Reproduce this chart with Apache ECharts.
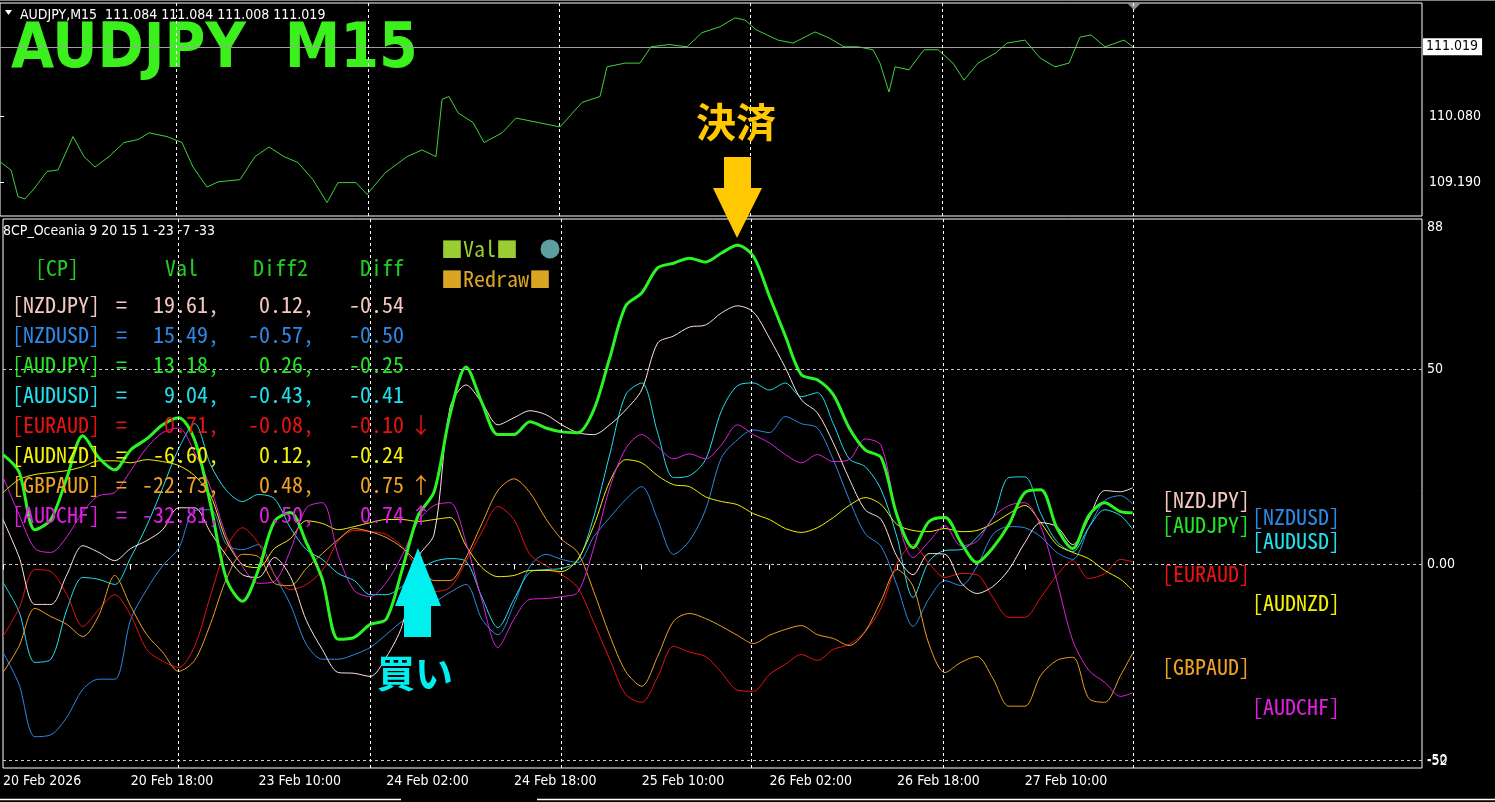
<!DOCTYPE html>
<html><head><meta charset="utf-8">
<script src="https://cdn.jsdelivr.net/npm/echarts@6/dist/echarts.min.js"></script>
<style>html,body{margin:0;padding:0;background:#000;}#c{width:1495px;height:802px;}</style>
</head><body><div id="c"></div>
<script>
// ---------- DATA ----------
const bars = [0,8,16,24,32,40,48,56,64,72,80,88,96,104,112,120,128,136,144,152,160,168,176,184,192,200,208,216,224,232,240,248,256,264,272,280,288,296,304,312,320,328,336,344,352,360,368,376,384,392,400,408,416,424,432,440,448,456,464,472,480,488,496,504,512,520,528,536,544,552,560,566];
const priceBars = [0,5.5,9,12.5,16.5,23.5,29,36.5,42,47.5,54.5,62,69,74.5,83.5,91,96.5,103.5,109,120,127.5,134.5,142,149,156.5,163.5,169,178,183.5,192.5,203.5,211,218,221,224.5,229,236.5,242,251,258,269,280,291,300,303.5,312.5,320,325.5,334.5,343.5,351,360,367.5,372.5,378,389,396.5,407.5,414.5,422,429,436.5,440,444.5,447.5,454.5,462,469,476.5,482,489,498,503.5,512.5,520,527.5,534.5,540,545.5,552.5,562,566.5];
const price = [109.47,109.36,109.00,108.97,109.09,109.34,109.36,109.81,109.54,109.40,109.54,109.73,109.77,109.86,109.81,109.73,109.40,109.13,109.20,109.23,109.54,109.67,109.54,109.46,109.23,108.92,109.19,109.19,109.03,109.32,109.54,109.63,109.54,110.31,110.35,110.13,110.00,109.73,109.86,110.06,110.00,109.94,110.27,110.35,110.75,110.80,110.80,111.02,111.05,111.02,111.21,111.29,111.41,111.38,111.25,111.11,111.07,111.22,111.14,111.02,111.02,110.98,110.80,110.41,110.75,110.71,110.98,110.98,110.80,110.57,110.80,110.94,111.07,111.11,110.87,110.75,110.80,111.15,111.18,111.02,111.11,111.02];
const nzdjpy = [11.5,2.0,-10.2,-10.2,-2.6,4.8,3.1,1.0,4.1,6.1,8.9,14.5,14.5,8.2,2.3,-2.6,-3.3,1.8,-3.1,-14.3,-21.7,-27.6,-27.8,-28.6,-23.7,-15.6,1.8,7.7,40.1,45.9,41.3,35.7,37.5,39.3,38.3,35.7,33.7,33.2,35.7,39.5,44.6,56.6,58.4,60.7,61.2,64.3,66.1,64.5,57.9,50.3,42.1,38.8,31.1,21.9,14.0,11.5,2.0,-2.6,2.8,2.6,-4.6,-7.4,-5.6,-1.3,5.6,10.7,9.7,5.1,11.7,18.9,18.6,19.6];
const nzdusd = [-22.4,-30.6,-44.0,-43.5,-39.0,-31.9,-29.3,-29.3,-14.0,-6.4,-0.3,4.1,13.8,14.0,5.1,3.8,5.1,-2.6,-10.2,-20.4,-24.2,-24.2,-23.0,-21.2,-17.9,-14.5,-12.0,-9.7,-7.1,-5.1,-14.0,-17.9,-10.2,-0.5,2.6,1.3,0.5,7.1,12.0,16.6,19.9,11.5,2.6,6.1,14.0,27.3,31.9,34.4,33.7,37.8,36.0,34.9,26.8,16.6,7.9,4.6,-5.4,-15.8,-8.7,-4.1,-5.4,-0.5,7.7,9.7,9.4,7.1,3.1,1.3,9.4,16.3,17.6,15.5];
const audjpy = [28.1,23.7,8.9,11.5,22.2,32.9,27.3,24.2,29.3,32.1,35.7,37.5,31.9,15.3,-3.8,-9.4,-1.3,11.0,13.3,5.6,-3.8,-19.1,-18.6,-15.3,-14.0,-1.3,12.5,18.6,38.3,50.5,41.3,33.2,33.2,36.5,34.9,33.9,33.7,39.5,52.8,66.1,69.4,75.8,77.0,78.3,77.3,79.6,81.6,78.8,68.6,58.4,48.5,47.2,43.4,34.9,29.3,27.3,12.5,4.3,11.0,12.0,5.6,0.5,4.3,10.2,18.4,19.1,9.4,4.1,12.5,15.8,13.5,13.2];
const audusd = [-4.6,-12.0,-25.0,-24.2,-11.5,-3.3,-3.8,-5.1,1.8,9.9,19.6,29.6,36.0,25.5,18.9,16.1,17.9,16.8,9.4,3.8,1.3,-2.3,-4.1,-7.7,-7.7,-5.6,-1.5,0.8,1.5,0.8,-8.4,-16.1,-8.9,-2.0,-1.3,-1.0,1.0,12.2,28.1,43.4,46.4,33.7,22.2,22.7,26.8,39.3,45.7,46.4,44.6,46.4,42.9,43.9,36.0,27.0,25.0,19.1,6.9,-8.4,0.8,3.6,3.8,6.9,12.0,22.2,22.4,13.0,5.9,3.3,9.4,14.0,12.5,9.0];
const euraud = [-18.4,-11.2,-1.3,-1.8,-7.7,-15.8,-11.5,-7.7,-13.0,-21.7,-24.7,-26.3,-20.9,-7.9,4.3,9.4,5.4,-2.6,-6.4,-5.1,-1.5,6.1,8.7,8.4,7.7,4.6,-1.3,-6.9,-5.9,0.8,8.4,14.8,11.5,2.6,-0.3,-2.6,-5.9,-14.8,-24.2,-33.2,-35.2,-28.8,-20.9,-22.4,-23.5,-27.6,-32.1,-32.4,-28.1,-25.5,-23.0,-24.5,-21.7,-20.4,-17.1,-11.0,0.3,5.1,0.3,-3.3,-2.3,-2.6,-8.4,-13.5,-13.5,-8.4,-2.8,1.0,-3.6,-2.3,1.3,0.7];
const audnzd = [18.4,21.7,23.0,23.5,24.0,25.0,26.5,26.5,26.0,26.8,26.3,25.3,22.7,17.6,6.1,0.0,-0.8,4.1,6.6,11.2,10.5,8.9,9.7,10.7,11.5,11.5,11.0,11.5,12.0,4.8,-0.8,-3.1,-2.8,-1.5,-1.5,-1.8,1.3,9.9,21.2,26.8,26.0,22.7,20.4,19.9,17.3,16.1,15.3,13.0,11.5,9.2,8.2,9.4,12.0,15.1,17.1,15.3,10.2,8.7,8.4,9.2,8.4,8.7,10.5,13.0,15.1,10.7,5.1,3.1,1.5,-1.5,-3.8,-6.6];
const gbpaud = [-27.6,-20.9,-11.2,-13.3,-15.3,-18.4,-13.0,-2.8,-10.7,-17.9,-22.4,-27.3,-24.5,-15.1,-3.6,2.6,2.0,-4.8,-5.4,-1.0,2.8,6.4,9.2,8.4,6.9,4.3,0.3,-4.1,-4.1,1.8,10.5,18.9,21.9,18.4,11.7,6.4,3.1,-6.9,-18.1,-27.3,-31.1,-23.5,-14.5,-12.5,-13.8,-15.8,-18.1,-20.2,-18.1,-16.6,-15.6,-17.9,-18.9,-20.7,-17.1,-9.2,-1.3,-5.6,-20.4,-27.6,-25.0,-23.5,-29.1,-36.2,-36.2,-28.3,-24.5,-23.7,-34.2,-35.2,-28.3,-22.7];
const audchf = [22.4,12.8,4.1,3.1,7.1,13.5,17.6,18.4,24.0,29.8,33.7,34.9,28.6,19.6,7.1,-0.5,-4.8,-4.3,3.6,14.5,15.8,2.3,-6.6,-8.2,-4.6,2.3,11.0,15.1,15.8,5.6,-9.2,-21.2,-14.0,-8.9,-8.7,-8.2,-7.1,4.3,19.6,29.6,33.2,30.1,27.0,28.3,27.0,30.6,35.7,33.2,31.1,28.1,26.0,28.1,26.3,26.8,32.1,30.4,12.2,1.8,5.9,9.9,4.8,5.9,12.0,15.1,15.8,9.7,-4.1,-19.4,-27.0,-30.1,-33.7,-32.8];

const pairs = ['NZDJPY','NZDUSD','AUDJPY','AUDUSD','EURAUD','AUDNZD','GBPAUD','AUDCHF'];
const tableVal = ['19.61','15.49','13.18','9.04','0.71','-6.60','-22.73','-32.81'];
const tableDiff2 = ['0.12','-0.57','0.26','-0.43','-0.08','0.12','0.48','0.50'];
const tableDiff = ['-0.54','-0.50','-0.25','-0.41','-0.10','-0.24','0.75','0.74'];
const tableArrow = ['','','','','↓','','↑','↑'];

const timeTickBars = [0,64,128,192,256,320,384,448,512];
const timeTickLabels = ['20 Feb 2026','20 Feb 18:00','23 Feb 10:00','24 Feb 02:00','24 Feb 18:00','25 Feb 10:00','26 Feb 02:00','26 Feb 18:00','27 Feb 10:00'];
const priceTicks = [109.19, 110.08];
const lastPrice = 111.019;
const indTicks = [50, 0, -50];
const indTop = 88, indBottom = -52;
const vGridBars = [88, 184, 279.5, 375, 471, 566.5];
const hGridLevels = [50, 0, -50];

// ---------- STYLE ----------
const colors = {
  NZDJPY:'#f4c8c0', NZDUSD:'#2f88e6', AUDJPY:'#22e622', AUDUSD:'#20e0ee',
  EURAUD:'#e81212', AUDNZD:'#f2f200', GBPAUD:'#eea024', AUDCHF:'#e020e0'
};
const lineColors = Object.assign({}, colors, {NZDJPY:'#ffe2dc', AUDJPY:'#2cf424'});
const seriesData = {NZDJPY:nzdjpy, NZDUSD:nzdusd, AUDJPY:audjpy, AUDUSD:audusd, EURAUD:euraud, AUDNZD:audnzd, GBPAUD:gbpaud, AUDCHF:audchf};
const FONT_UI = "'DejaVu Sans Condensed','Liberation Sans Narrow','DejaVu Sans',sans-serif";
const FONT_MONO = "'Noto Sans Mono CJK JP','Noto Sans CJK JP','DejaVu Sans Mono',monospace";
const FONT_CJK = "'Noto Sans CJK JP',sans-serif";
const zip = a => bars.map((b,i)=>[b,a[i]]);

function txt(x,y,text,fill,font,align,z){
  return {type:'text', z:z||5, style:{x:x,y:y,text:text,fill:fill,font:font,
    textAlign:align||'left', align:align||'left', textVerticalAlign:'middle', verticalAlign:'middle'}};
}

const graphics = [];
graphics.push({type:'rect', shape:{x:0,y:0,width:1495,height:1}, style:{fill:'#808080'}});
graphics.push({type:'polygon', shape:{points:[[5,10],[12,10],[8.5,15]]}, style:{fill:'#fff'}});
graphics.push(txt(20,15,'AUDJPY,M15  111.084 111.084 111.008 111.019','#fff','14px '+FONT_UI));
graphics.push(txt(11,51,'AUDJPY  M15','#3cf01e','bold 62px '+FONT_UI));
graphics.push(txt(3,231,'8CP_Oceania 9 20 15 1 -23 -7 -33','#fff','14px '+FONT_UI));
// table
const TF = '22px '+FONT_MONO;
graphics.push(txt(35,268,'[CP]','#22cc22',TF));
graphics.push(txt(198,268,'Val','#22cc22',TF,'right'));
graphics.push(txt(308,268,'Diff2','#22cc22',TF,'right'));
graphics.push(txt(404,268,'Diff','#22cc22',TF,'right'));
pairs.forEach((p,i)=>{
  const y = 305 + i*30, c = colors[p];
  graphics.push(txt(12,y,'['+p+']',c,TF));
  graphics.push(txt(116,y,'=',c,TF));
  graphics.push(txt(219,y,tableVal[i]+',',c,TF,'right'));
  graphics.push(txt(314,y,tableDiff2[i]+',',c,TF,'right'));
  graphics.push(txt(404,y,tableDiff[i],c,TF,'right'));
  if (tableArrow[i]) graphics.push(txt(410,y,tableArrow[i],c,TF));
});
// legend-like boxes
graphics.push(txt(441,249,'■Val■','#9acd32',TF));
graphics.push(txt(441,279,'■Redraw■','#daa520',TF));
graphics.push({type:'circle', shape:{cx:550,cy:249,r:9.5}, style:{fill:'#5f9ea0'}, z:5});
// right-side pair labels
const rl = {NZDJPY:[1162,500],AUDJPY:[1162,525],NZDUSD:[1252,517],AUDUSD:[1252,541],EURAUD:[1162,574],AUDNZD:[1252,603],GBPAUD:[1162,667],AUDCHF:[1252,707]};
pairs.forEach(p=>graphics.push(txt(rl[p][0],rl[p][1],'['+p+']',colors[p],TF)));
// annotations
graphics.push(txt(736,122,'決済','#ffc800','bold 40px '+FONT_CJK,'center',100));
graphics.push({type:'polygon', z:100, shape:{points:[[724,157],[751,157],[751,188],[762,188],[737,238],[713,188],[724,188]]}, style:{fill:'#ffc800'}});
graphics.push({type:'polygon', z:100, shape:{points:[[418,548],[441,606],[431,606],[431,637],[404,637],[404,606],[395,606]]}, style:{fill:'#00f0f0'}});
graphics.push(txt(415,673,'買い','#00f0f0','bold 38px '+FONT_CJK,'center',100));
// chart shift marker
graphics.push({type:'polygon', shape:{points:[[1127,3],[1141,3],[1134,10]]}, style:{fill:'#8a8f98'}});
// bottom tab strip (outline)
graphics.push({type:'line', shape:{x1:0,y1:799.5,x2:401,y2:799.5}, style:{stroke:'#ffffff', lineWidth:1.5}});
graphics.push({type:'line', shape:{x1:537,y1:799.5,x2:1495,y2:799.5}, style:{stroke:'#ffffff', lineWidth:1.5}});

const dashW = {type:[3,3], color:'#ffffff', width:1};
const dashH = {type:[3,3], color:'#c8c8c8', width:1};

const series = [];
series.push({
  type:'line', xAxisIndex:0, yAxisIndex:0, data:priceBars.map((b,i)=>[b,price[i]]), showSymbol:false, symbol:'none',
  lineStyle:{color:'#3fcf3f', width:1}, z:3,
  markLine:{silent:true, symbol:'none', animation:false,
    data:[
      {yAxis:lastPrice, lineStyle:{color:'#a0a0a0', width:1, type:'solid'},
       label:{show:true, position:'end', distance:1, formatter:lastPrice.toFixed(3), color:'#000', backgroundColor:'#fff', padding:[2,4,1,3], fontSize:14, fontFamily:FONT_UI}}
    ].concat(vGridBars.map(b=>({xAxis:b, lineStyle:dashW, label:{show:false}})))
  }
});
const order = ['NZDUSD','AUDUSD','EURAUD','AUDNZD','GBPAUD','AUDCHF','NZDJPY','AUDJPY'];
order.forEach((p,k)=>{
  const s = {type:'line', name:p, xAxisIndex:1, yAxisIndex:1, data:zip(seriesData[p]), showSymbol:false, symbol:'none',
    smooth:0.3, lineStyle:{color:lineColors[p], width:p==='AUDJPY'?3:1}, z:p==='AUDJPY'?4:3};
  if (k===0){
    s.markLine = {silent:true, symbol:'none', animation:false,
      data: hGridLevels.map(v=>({yAxis:v, lineStyle:dashH, label:{show:false}}))
        .concat(vGridBars.map(b=>({xAxis:b, lineStyle:dashW, label:{show:false}})))};
  }
  series.push(s);
});

const axisFont = {color:'#fff', fontFamily:FONT_UI};
const option = {
  backgroundColor:'#000', animation:false,
  grid:[
    {left:0, right:73, top:3, height:213, show:true, borderColor:'#fff', borderWidth:1, backgroundColor:'#000'},
    {left:0, right:73, top:219, bottom:34, show:true, borderColor:'#fff', borderWidth:1, backgroundColor:'#000'}
  ],
  xAxis:[
    {type:'value', gridIndex:0, min:0, max:711, show:false},
    {type:'value', gridIndex:1, min:0, max:711, position:'bottom',
      axisLine:{show:false}, splitLine:{show:false},
      axisTick:{show:true, customValues:timeTickBars, length:5, lineStyle:{color:'#fff'}},
      axisLabel:Object.assign({show:true, customValues:timeTickBars, fontSize:14, align:'left', margin:6,
        formatter:v=>timeTickLabels[timeTickBars.indexOf(v)]||''}, axisFont)}
  ],
  yAxis:[
    {type:'value', gridIndex:0, min:108.74, max:111.61, position:'right',
      axisLine:{show:false}, splitLine:{show:false},
      axisTick:{show:true, customValues:priceTicks, length:4, lineStyle:{color:'#fff'}},
      axisLabel:Object.assign({customValues:priceTicks, fontSize:14, margin:7, formatter:v=>v.toFixed(3)}, axisFont)},
    {type:'value', gridIndex:1, min:indBottom, max:88.3, position:'right',
      axisLine:{show:false}, splitLine:{show:false}, axisTick:{show:false},
      axisLabel:Object.assign({customValues:indTicks, fontSize:14, margin:5, formatter:v=>v===0?'0.00':String(v)}, axisFont)},
    {type:'value', gridIndex:1, min:indBottom, max:88.3, position:'right',
      axisLine:{show:false}, splitLine:{show:false}, axisTick:{show:false},
      axisLabel:Object.assign({customValues:[indTop], fontSize:14, margin:5, verticalAlign:'top', formatter:v=>String(v)}, axisFont)},
    {type:'value', gridIndex:1, min:indBottom, max:88.3, position:'right',
      axisLine:{show:false}, splitLine:{show:false}, axisTick:{show:false},
      axisLabel:Object.assign({customValues:[indBottom], fontSize:14, margin:5, verticalAlign:'bottom', formatter:v=>String(v)}, axisFont)}
  ],
  graphic:{elements:graphics},
  series:series
};
const chart = echarts.init(document.getElementById('c'), null, {renderer:'canvas'});
chart.setOption(option);
</script></body></html>
